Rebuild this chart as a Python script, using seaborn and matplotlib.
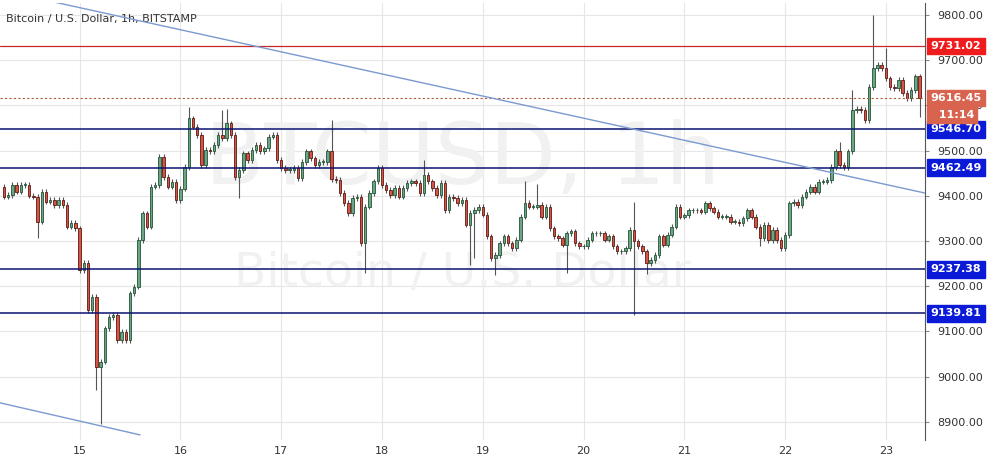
import numpy as np
import pandas as pd
import matplotlib
matplotlib.use("Agg")
import matplotlib.pyplot as plt
import seaborn as sns

# Hourly closes, 14th 06:00 -> 23rd 08:00
closes = [
    9398, 9402, 9424, 9409, 9424, 9424, 9400, 9398, 9343, 9409, 9387, 9391, 9380, 9391, 9380, 9332,
    9340, 9328, 9236, 9251, 9147, 9177, 9022, 9033, 9107, 9132, 9136, 9081, 9099, 9081, 9184, 9199,
    9302, 9361, 9332, 9420, 9424, 9486, 9442, 9420, 9431, 9390, 9416, 9464, 9571, 9553, 9534, 9468,
    9501, 9498, 9512, 9534, 9527, 9560, 9534, 9442, 9457, 9494, 9479, 9501, 9512, 9498, 9505, 9531,
    9534, 9479, 9461, 9457, 9457, 9461, 9439, 9475, 9498, 9483, 9468, 9475, 9475, 9498, 9437, 9435,
    9406, 9384, 9362, 9395, 9398, 9295, 9376, 9406, 9432, 9461, 9424, 9413, 9402, 9417, 9398, 9417,
    9428, 9432, 9428, 9406, 9446, 9432, 9417, 9402, 9428, 9369, 9398, 9395, 9384, 9391, 9336, 9362,
    9369, 9376, 9358, 9310, 9262, 9269, 9295, 9310, 9295, 9284, 9303, 9354, 9384, 9376, 9376, 9380,
    9354, 9376, 9328, 9310, 9306, 9292, 9317, 9321, 9295, 9288, 9288, 9303, 9317, 9317, 9317, 9303,
    9310, 9288, 9277, 9277, 9284, 9325, 9299, 9288, 9277, 9251, 9258, 9269, 9310, 9292, 9314, 9332,
    9376, 9354, 9357, 9368, 9368, 9368, 9365, 9383, 9372, 9365, 9354, 9354, 9354, 9343, 9343, 9339,
    9350, 9368, 9354, 9332, 9306, 9335, 9302, 9324, 9302, 9284, 9313, 9383, 9387, 9380, 9398, 9409,
    9420, 9409, 9431, 9431, 9435, 9464, 9498, 9468, 9464, 9498, 9590, 9593, 9590, 9568, 9641, 9682,
    9689, 9682, 9660, 9641, 9638, 9656, 9627, 9616, 9634, 9664, 9616,
]
first_open = 9420
# long wicks: index -> (high, low)
long_wicks = {8: (None, 9306), 22: (None, 8970), 23: (None, 8896), 44: (9597, None), 52: (9590, None),
              53: (9593, None), 56: (None, 9395), 78: (9567, None), 86: (None, 9229), 100: (9480, None),
              111: (None, 9247), 112: (None, 9262), 117: (None, 9225), 124: (9432, None), 127: (9425, None),
              134: (None, 9229), 150: (9387, 9137), 153: (None, 9228), 180: (None, 9290),
              199: (9520, None), 202: (9634, None), 207: (9800, None), 210: (9726, None), 218: (None, 9575)}

levels_blue = [9546.70, 9462.49, 9237.38, 9139.81]
level_red = 9731.02
last_price = 9616.45
day_labels = ["15", "16", "17", "18", "19", "20", "21", "22", "23"]
trend_upper = ([-1, 219.3], [9855, 9406])
trend_lower = ([-1, 32.4], [8942, 8871])

n = len(closes)
opens = [first_open] + closes[:-1]
df = pd.DataFrame({"i": np.arange(n), "open": opens, "close": closes})
df["high"] = df[["open", "close"]].max(axis=1) + 6
df["low"] = df[["open", "close"]].min(axis=1) - 6
for k, (h, l) in long_wicks.items():
    if h is not None:
        df.loc[k, "high"] = h
    if l is not None:
        df.loc[k, "low"] = l

sns.set_style("white")
plt.rcParams["font.family"] = ["DejaVu Sans"]
fig = plt.figure(figsize=(10.02, 4.67), dpi=100)
ax = fig.add_axes([0, 27 / 467, 925 / 1002, 1 - 30 / 467])

ax.set_xlim(-0.95, 219.3)
ax.set_ylim(8859.7, 9826.5)

# grid
for p in range(8900, 9900, 100):
    ax.axhline(p, color="#e6e6e6", lw=0.8, zorder=0)
for k in range(len(day_labels)):
    ax.axvline(18 + 24 * k, color="#e6e6e6", lw=0.8, zorder=0)

# watermark
ax.text(0.5, 0.64, "BTCUSD, 1h", transform=ax.transAxes, ha="center", va="center",
        fontsize=62, color="#f1f1f1", zorder=0)
ax.text(0.5, 0.38, "Bitcoin / U.S. Dollar", transform=ax.transAxes, ha="center", va="center",
        fontsize=34, color="#f1f1f1", zorder=0)

up = df["close"] >= df["open"]
colors_body = np.where(up, "#6ba583", "#d75442")
colors_edge = np.where(up, "#225437", "#5b1a13")
ax.vlines(df["i"], df["low"], df["high"], color="#555555", lw=0.8, zorder=2)
ax.bar(df["i"], (df["close"] - df["open"]).abs().clip(lower=1.5),
       bottom=df[["open", "close"]].min(axis=1), width=0.6,
       color=colors_body, edgecolor=colors_edge, linewidth=0.6, zorder=3)

for lv in levels_blue:
    ax.axhline(lv, color="#0b1470", lw=1.1, zorder=4)
ax.axhline(level_red, color="#c62828", lw=0.9, zorder=4)
ax.axhline(last_price, color="#b05a3c", lw=0.8, ls=(0, (2, 2)), zorder=4)

sns.lineplot(x=trend_upper[0], y=trend_upper[1], ax=ax, color="#7a9ad0", lw=1, zorder=4)
sns.lineplot(x=trend_lower[0], y=trend_lower[1], ax=ax, color="#7a9ad0", lw=1, zorder=4)

ax.set_xticks([18 + 24 * k for k in range(len(day_labels))])
ax.set_xticklabels(day_labels, fontsize=8, color="#333333")
ax.tick_params(axis="x", length=0, pad=4)
ax.yaxis.tick_right()
ax.set_yticks(range(8900, 9900, 100))
ax.set_yticklabels([f"{p:.2f}" for p in range(8900, 9900, 100)], fontsize=8, color="#333333")
ax.tick_params(axis="y", length=3, pad=6, color="#888888")
for s in ["top", "left", "bottom"]:
    ax.spines[s].set_visible(False)
ax.spines["right"].set_color("#555555")

ax.text(0.006, 0.975, "Bitcoin / U.S. Dollar, 1h, BITSTAMP", transform=ax.transAxes,
        fontsize=8, color="#333333", va="top")

def tag(y, txt, fc, dy=0):
    ax.annotate(txt, xy=(1, y), xycoords=("axes fraction", "data"), xytext=(4, dy),
                textcoords="offset points", va="center", ha="left", fontsize=8,
                fontweight="bold", color="white",
                bbox=dict(boxstyle="square,pad=0.3", fc=fc, ec=fc))

for lv in levels_blue:
    tag(lv, f"{lv:.2f}", "#0b1ad6")
tag(level_red, f"{level_red:.2f}", "#ee1c1c")
tag(last_price, f"{last_price:.2f}", "#d8644f")
tag(last_price, "  11:14", "#d8644f", dy=-12)

fig.savefig("out.png", dpi=100)
